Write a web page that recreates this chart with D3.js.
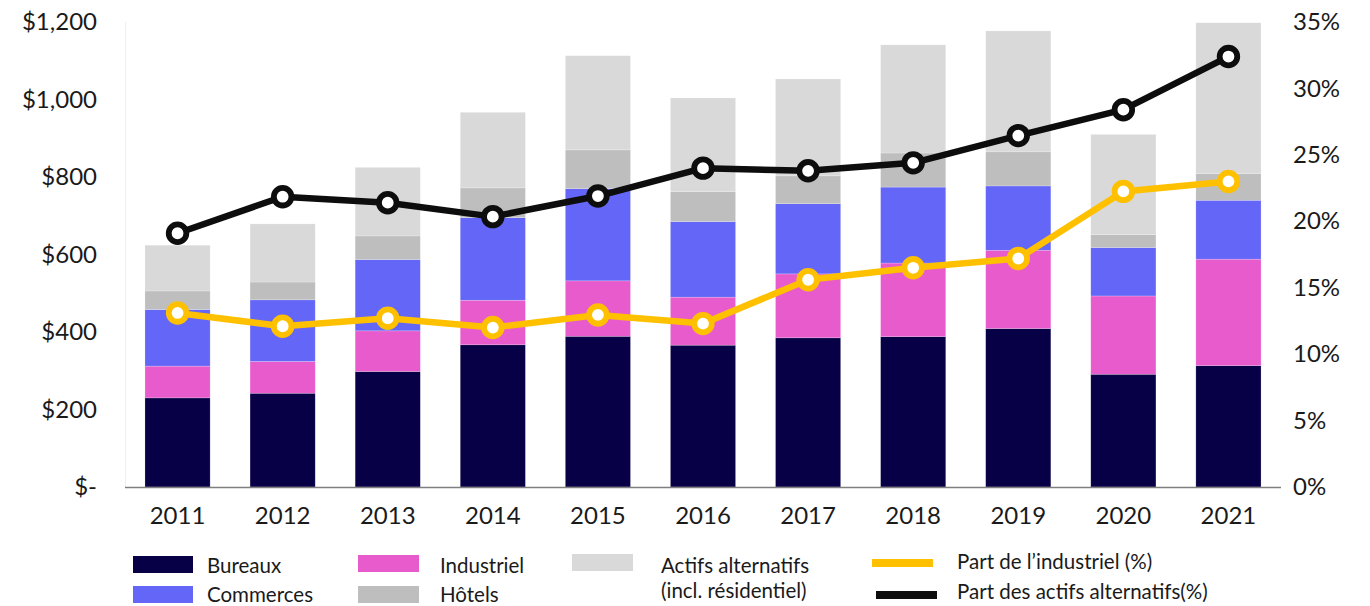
<!DOCTYPE html>
<html><head><meta charset="utf-8">
<script src="https://cdn.jsdelivr.net/npm/d3@7"></script>
<style>
html,body{margin:0;padding:0;background:#fff;}
text{font-family:Lato,"Noto Sans",sans-serif;fill:#1a1a1a;}
</style></head>
<body><svg id="c" width="1370" height="606"></svg>
<script>
const years = ["2011","2012","2013","2014","2015","2016","2017","2018","2019","2020","2021"];
const bureaux    = [230, 242, 298, 367, 389, 366, 385, 388, 409, 291, 313];
const industriel = [ 82,  82, 105, 115, 143, 124, 165, 190, 202, 202, 275];
const commerces  = [146, 159, 184, 213, 238, 195, 181, 196, 166, 125, 152];
const hotels     = [ 48,  46,  61,  77, 100,  77,  72,  88,  88,  33,  69];
const alternatifs= [118, 150, 177, 195, 243, 242, 250, 279, 312, 259, 389];
const partIndustriel   = [13.1, 12.1, 12.7, 12.0, 12.95, 12.3, 15.6, 16.5, 17.2, 22.25, 23.0];
const partAlternatifs  = [19.1, 21.85, 21.4, 20.35, 21.9, 24.0, 23.8, 24.4, 26.45, 28.4, 32.4];
const leftTicks  = [0, 200, 400, 600, 800, 1000, 1200];
const rightTicks = [0, 5, 10, 15, 20, 25, 30, 35];

const seriesKeys = ["Bureaux","Industriel","Commerces","Hôtels","Alternatifs"];
const seriesVals = [bureaux, industriel, commerces, hotels, alternatifs];
const colors = ["#070046","#e85bcc","#6366f6","#bebebe","#d9d9d9"];

const svg = d3.select("#c");
const x = d3.scaleBand().domain(years).range([125,1281]).paddingInner(0.38).paddingOuter(0.19);
const y = d3.scaleLinear().domain([0,1200]).range([487,22]);
const y2 = d3.scaleLinear().domain([0,35]).range([487,22]);

const table = years.map((yr,i)=>{const o={year:yr}; seriesKeys.forEach((k,j)=>o[k]=seriesVals[j][i]); return o;});
const stacked = d3.stack().keys(seriesKeys)(table);

svg.append("line").attr("x1",125.5).attr("x2",125.5).attr("y1",y(1200)).attr("y2",y(0)).attr("stroke","#eeeeee").attr("stroke-width",1);

svg.append("g").selectAll("g").data(stacked).join("g")
  .attr("fill",(d,i)=>colors[i])
  .selectAll("rect").data(d=>d).join("rect")
  .attr("x",d=>x(d.data.year)).attr("width",x.bandwidth())
  .attr("y",d=>y(d[1])).attr("height",d=>y(d[0])-y(d[1]))
  .attr("stroke","rgba(255,255,255,0.35)").attr("stroke-width",0.6);

svg.append("line").attr("x1",125).attr("x2",1281).attr("y1",487.5).attr("y2",487.5).attr("stroke","#7f7f7f").attr("stroke-width",1.5);

const ya = svg.append("g").attr("transform","translate(97,0)")
  .call(d3.axisLeft(y).tickValues(leftTicks).tickSize(0).tickPadding(0)
    .tickFormat(d=> d===0 ? "$-" : "$"+d3.format(",")(d)));
ya.select(".domain").remove();
ya.selectAll("text").style("font-size","24px").attr("fill","#1a1a1a");

const yb = svg.append("g").attr("transform","translate(1293,0)")
  .call(d3.axisRight(y2).tickValues(rightTicks).tickSize(0).tickPadding(0).tickFormat(d=>d+"%"));
yb.select(".domain").remove();
yb.selectAll("text").style("font-size","24px").attr("fill","#1a1a1a");

const xa = svg.append("g").attr("transform","translate(0,507)")
  .call(d3.axisBottom(x).tickSize(0).tickPadding(0));
xa.select(".domain").remove();
xa.selectAll("text").style("font-size","24px").attr("fill","#1a1a1a").attr("dy","0.71em");

function drawLine(vals, col){
  const pts = years.map((yr,i)=>[x(yr)+x.bandwidth()/2, y2(vals[i])]);
  svg.append("path").attr("d", d3.line()(pts)).attr("fill","none").attr("stroke",col).attr("stroke-width",6.5).attr("stroke-linejoin","round");
  svg.append("g").selectAll("circle").data(pts).join("circle")
    .attr("cx",d=>d[0]).attr("cy",d=>d[1]).attr("r",8.8)
    .attr("fill","#fff").attr("stroke",col).attr("stroke-width",5.8);
}
drawLine(partIndustriel, "#ffc000");
drawLine(partAlternatifs, "#0d0d0d");

const lg = svg.append("g");
const legendRects = [
  {x:133,y:556,w:60,h:17,c:colors[0],t:["Bureaux"],tx:207,ty:566},
  {x:133,y:586,w:60,h:17,c:colors[2],t:["Commerces"],tx:207,ty:595},
  {x:358,y:555,w:61,h:17,c:colors[1],t:["Industriel"],tx:440,ty:566},
  {x:358,y:586,w:61,h:17,c:colors[3],t:["Hôtels"],tx:440,ty:595},
  {x:572,y:554,w:61,h:17,c:colors[4],t:["Actifs alternatifs","(incl. résidentiel)"],tx:661,ty:566}
];
legendRects.forEach(d=>{
  lg.append("rect").attr("x",d.x).attr("y",d.y).attr("width",d.w).attr("height",d.h).attr("fill",d.c);
  d.t.forEach((s,i)=>lg.append("text").attr("x",d.tx).attr("y",d.ty+i*25).attr("dy","0.35em").style("font-size","20.5px").text(s));
});
const legendLines = [
  {x:872,y:563,c:"#ffc000",t:"Part de l’industriel (%)",ty:562},
  {x:876,y:595,c:"#0d0d0d",t:"Part des actifs alternatifs(%)",ty:592}
];
legendLines.forEach(d=>{
  lg.append("rect").attr("x",d.x).attr("y",d.y-4).attr("width",61).attr("height",8).attr("fill",d.c);
  lg.append("text").attr("x",957).attr("y",d.ty).attr("dy","0.35em").style("font-size","20.5px").text(d.t);
});
</script></body></html>
